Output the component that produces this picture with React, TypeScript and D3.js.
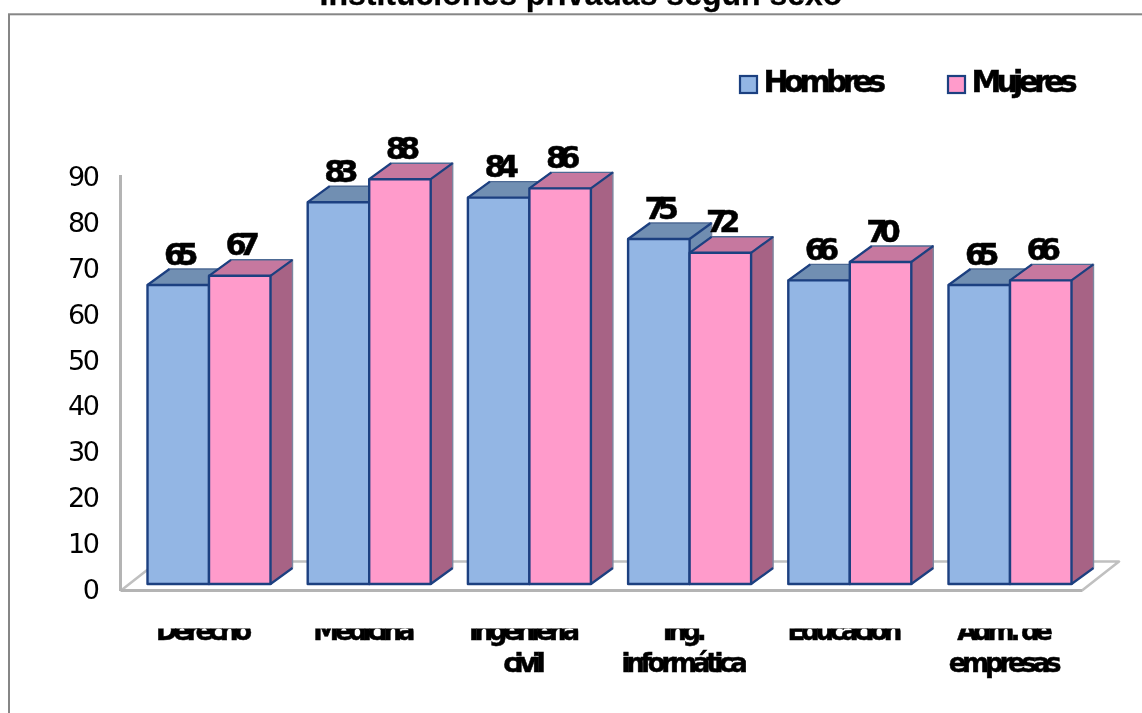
import React from "react";
import * as d3 from "d3";

const categories: string[][] = [["Derecho"], ["Medicina"], ["Ingeniería", "civil"], ["Ing.", "informática"], ["Educación"], ["Adm. de", "empresas"]];
const hombres = [65, 83, 84, 75, 66, 65];
const mujeres = [67, 88, 86, 72, 70, 66];
const ticks = [0, 10, 20, 30, 40, 50, 60, 70, 80, 90];
const seriesNames = ["Hombres", "Mujeres"];
const titleText = "Instituciones privadas según sexo";

const W = 1142, H = 713;
const dx = 22, dy = -16;
const barW = 61.5;
const x = d3.scaleBand<number>().domain(d3.range(6)).range([147.5, 1108.7]);
const y = d3.scaleLinear().domain([0, 90]).range([584, 170]);
const tickY = d3.scaleLinear().domain([0, 90]).range([589, 176]);
const font = "'DejaVu Sans', Verdana, sans-serif";
const stroke = "#1d3f80";

const palette = [
  { front: "#93b6e4", top: "#718fb2", side: "#6f8db0" },
  { front: "#ff9bcb", top: "#c6789f", side: "#a76485" },
];

function Bar({ x0, v, c }: { x0: number; v: number; c: typeof palette[0] }) {
  const t = y(v), b = y(0), x1 = x0 + barW;
  return (
    <g strokeLinejoin="round">
      <polygon points={`${x0},${t} ${x0 + dx},${t + dy} ${x1 + dx},${t + dy} ${x1},${t}`} fill={c.top} stroke="#4d6a94" strokeWidth={1.4} />
      <polygon points={`${x1},${t} ${x1 + dx},${t + dy} ${x1 + dx},${b + dy} ${x1},${b}`} fill={c.side} stroke="#7d86a0" strokeWidth={1.4} />
      <line x1={x0} y1={t} x2={x0 + dx} y2={t + dy} stroke={stroke} strokeWidth={2.2} />
      <line x1={x1} y1={t} x2={x1 + dx} y2={t + dy} stroke={stroke} strokeWidth={2.2} />
      <line x1={x1} y1={b} x2={x1 + dx} y2={b + dy} stroke={stroke} strokeWidth={2.2} />
      <rect x={x0} y={t} width={barW} height={b - t} fill={c.front} stroke={stroke} strokeWidth={2.4} />
    </g>
  );
}

export default function App() {
  return (
    <svg width={W} height={H} style={{ position: "absolute", left: 0, top: 0, background: "#fff" }} fontFamily={font}>
      <defs>
        <clipPath id="catClip"><rect x={0} y={628.5} width={W} height={H - 628.5} /></clipPath>
        <filter id="soft" x="0" y="0" width="100%" height="100%" filterUnits="userSpaceOnUse" primitiveUnits="userSpaceOnUse">
          <feGaussianBlur stdDeviation="0.55" />
        </filter>
      </defs>
      <g filter="url(#soft)">
        <text x={581} y={5} textAnchor="middle" fontFamily="'Liberation Sans', Arial, sans-serif" fontWeight="bold" fontSize={32} stroke="#000" strokeWidth={0.3}>{titleText}</text>
        <rect x={9} y={14.3} width={W + 20} height={H + 20} fill="none" stroke="#868686" strokeWidth={2} />

        <polygon points="121,590.5 1082,590.5 1119,561.5 158,561.5" fill="#fff" stroke="#c0c0c0" strokeWidth={2.6} strokeLinejoin="round" />
        <line x1={121} x2={1082} y1={590.5} y2={590.5} stroke="#b4b4b4" strokeWidth={3} />
        <line x1={120.5} x2={120.5} y1={175} y2={591} stroke="#b4b4b4" strokeWidth={3} />

        {ticks.map((t) => (
          <text key={t} x={97.5} y={tickY(t) + 10} textAnchor="end" fontSize={27} letterSpacing={-2.4} fill="#000">{t}</text>
        ))}

        {categories.map((_, i) => {
          const gx = x(i)!;
          return (
            <g key={i}>
              <Bar x0={gx} v={hombres[i]} c={palette[0]} />
              <Bar x0={gx + barW} v={mujeres[i]} c={palette[1]} />
            </g>
          );
        })}

        {categories.map((_, i) => {
          const gx = x(i)!;
          const lab = (v: number, cx: number, key: string) => (
            <text key={key} x={cx} y={y(v) + dy - 4.5} textAnchor="middle" fontSize={30.5} fontWeight="bold" letterSpacing={-8} stroke="#000" strokeWidth={0.5} fill="#000">{v}</text>
          );
          return (
            <g key={i}>
              {lab(hombres[i], gx + barW / 2 - 1, "h")}
              {lab(mujeres[i], gx + barW * 1.5 - 1, "m")}
            </g>
          );
        })}

        <g clipPath="url(#catClip)">
          {categories.map((lines, i) => (
            <text key={i} textAnchor="middle" fontSize={26} fontWeight="bold" letterSpacing={-4.2} stroke="#000" strokeWidth={0.5} fill="#000">
              {lines.map((l, j) => (
                <tspan key={j} x={x(i)! + barW - 7} y={640 + j * 32}>{l}</tspan>
              ))}
            </text>
          ))}
        </g>

        {seriesNames.map((n, i) => {
          const lx = [740, 948][i];
          return (
            <g key={n}>
              <rect x={lx} y={76} width={17} height={17} fill={palette[i].front} stroke={stroke} strokeWidth={2.2} />
              <text x={lx + 23.5} y={92} fontSize={30} fontWeight="bold" letterSpacing={-4.8} stroke="#000" strokeWidth={0.5} fill="#000">{n}</text>
            </g>
          );
        })}
      </g>
    </svg>
  );
}
